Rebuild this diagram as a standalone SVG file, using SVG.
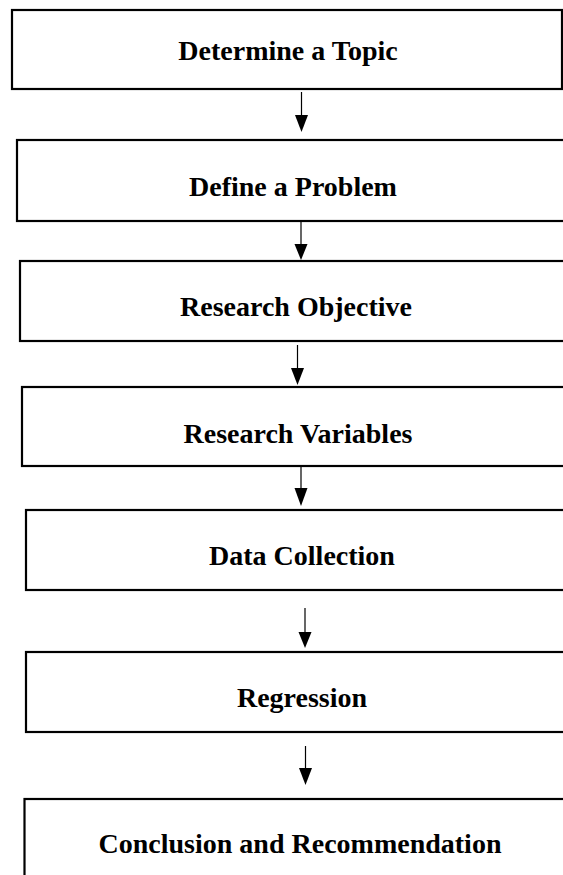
<svg xmlns="http://www.w3.org/2000/svg" width="563" height="875" viewBox="0 0 563 875">
<style>
.box{fill:#fff;stroke:#000;stroke-width:2.2}
.lbl{font-family:"Liberation Serif","Times New Roman",serif;font-weight:bold;font-size:28px;fill:#000;text-anchor:middle}
.conn line{stroke:#000;stroke-width:1.2}
.conn polygon{fill:#000}
</style>
<rect width="563" height="875" fill="#fff"/>
<g id="n1"><rect class="box" x="12" y="10" width="550" height="79"/><text class="lbl" x="288" y="60">Determine a Topic</text></g>
<g id="n2"><rect class="box" x="17" y="140" width="560" height="81"/><text class="lbl" x="293" y="196">Define a Problem</text></g>
<g id="n3"><rect class="box" x="20" y="261" width="560" height="80"/><text class="lbl" x="296" y="316">Research Objective</text></g>
<g id="n4"><rect class="box" x="22" y="387" width="560" height="79"/><text class="lbl" x="298" y="443">Research Variables</text></g>
<g id="n5"><rect class="box" x="26" y="510" width="560" height="80"/><text class="lbl" x="302" y="565">Data Collection</text></g>
<g id="n6"><rect class="box" x="26" y="652" width="560" height="80"/><text class="lbl" x="302" y="707">Regression</text></g>
<g id="n7"><rect class="box" x="24.5" y="799" width="560" height="100"/><text class="lbl" x="300" y="853">Conclusion and Recommendation</text></g>
<g id="connectors" class="conn">
<line x1="301.5" y1="92" x2="301.5" y2="116"/><polygon points="295,115 308,115 301.5,132"/>
<line x1="301" y1="222" x2="301" y2="245"/><polygon points="294.5,244 307.5,244 301,260"/>
<line x1="297.5" y1="345" x2="297.5" y2="369"/><polygon points="291,368 304,368 297.5,385"/>
<line x1="301" y1="467" x2="301" y2="489"/><polygon points="294.5,488 307.5,488 301,506"/>
<line x1="305" y1="608" x2="305" y2="633"/><polygon points="298.5,632 311.5,632 305,648"/>
<line x1="305.5" y1="746" x2="305.5" y2="769"/><polygon points="299,768 312,768 305.5,785"/>
</g>
</svg>
